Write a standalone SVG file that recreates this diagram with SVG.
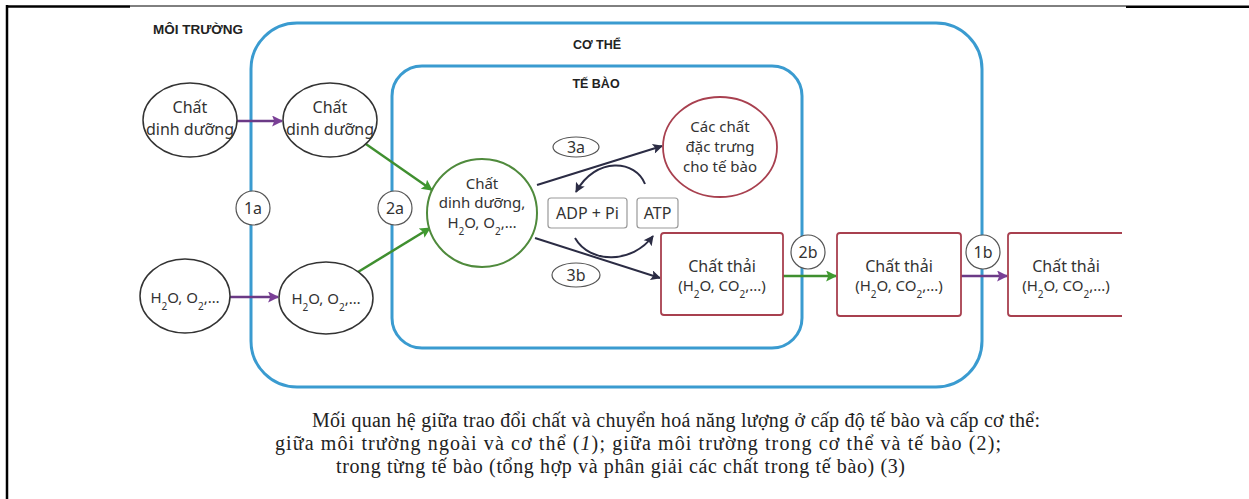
<svg xmlns="http://www.w3.org/2000/svg" width="1249" height="499" viewBox="0 0 1249 499">
  <style>
    .frame { stroke: #000; fill: none; }
    .zone { fill: none; stroke: #3a9bd0; stroke-width: 3; }
    .zone-title { font-family: "Liberation Sans", Arial, sans-serif; font-weight: bold; font-size: 12.5px; fill: #222; }
    .lbl { font-family: "Noto Sans", "Open Sans", sans-serif; font-size: 16px; fill: #333; text-anchor: middle; }
    .lbl.small { font-size: 15px; }
    .sub { font-size: 10px; }
    .plain { fill: #fff; stroke: #333; stroke-width: 1.5; }
    .green-node { fill: #fff; stroke: #4f8a3c; stroke-width: 2; }
    .red-node { fill: #fff; stroke: #a8404f; stroke-width: 1.8; }
    .tag { fill: #fff; stroke: #555; stroke-width: 1.2; }
    .energy { fill: #fff; stroke: #999; stroke-width: 1.2; }
    .purple { stroke: #6b3a86; stroke-width: 2.5; fill: none; }
    .green { stroke: #3f8f2f; stroke-width: 2.5; fill: none; }
    .dark { stroke: #2b2c44; stroke-width: 2; fill: none; }
    .caption { font-family: "Liberation Serif", "Times New Roman", serif; font-size: 20px; fill: #222; }
  </style>
  <defs>
    <marker id="arrow-purple" viewBox="0 0 10 10" refX="9" refY="5" markerWidth="15" markerHeight="11" markerUnits="userSpaceOnUse" orient="auto">
      <path d="M0,0 L10,5 L0,10 L2,5 z" fill="#7a3f96"/>
    </marker>
    <marker id="arrow-green" viewBox="0 0 10 10" refX="9" refY="5" markerWidth="15" markerHeight="11" markerUnits="userSpaceOnUse" orient="auto">
      <path d="M0,0 L10,5 L0,10 L2,5 z" fill="#3f9a2f"/>
    </marker>
    <marker id="arrow-dark" viewBox="0 0 10 10" refX="9" refY="5" markerWidth="13" markerHeight="10" markerUnits="userSpaceOnUse" orient="auto">
      <path d="M0,0 L10,5 L0,10 L2,5 z" fill="#2b2c44"/>
    </marker>
  </defs>

  <rect width="1249" height="499" fill="#fff"/>

  <!-- page frame -->
  <g id="frame">
    <line class="frame" x1="7" y1="5" x2="7" y2="499" stroke-width="2.5"/>
    <line class="frame" x1="6" y1="6.5" x2="130" y2="6.5" stroke-width="2.5"/>
    <line class="frame" x1="130" y1="6" x2="1126" y2="6" stroke-width="1"/>
    <line class="frame" x1="1126" y1="6.8" x2="1249" y2="6.8" stroke-width="2.5"/>
  </g>

  <!-- nested compartments -->
  <g id="environment">
    <text class="zone-title" x="153" y="34" textLength="90" lengthAdjust="spacingAndGlyphs">MÔI TRƯỜNG</text>
  </g>
  <g id="body">
    <rect class="zone" x="251" y="23" width="731" height="364" rx="46"/>
    <text class="zone-title" x="597" y="49" text-anchor="middle">CƠ THỂ</text>
  </g>
  <g id="cell">
    <rect class="zone" x="392" y="66" width="410" height="282" rx="30"/>
    <text class="zone-title" x="596" y="88" text-anchor="middle">TẾ BÀO</text>
  </g>

  <!-- connectors -->
  <g id="connectors">
    <line class="purple" x1="237" y1="121" x2="282" y2="121" marker-end="url(#arrow-purple)"/>
    <line class="purple" x1="230" y1="297" x2="278" y2="297" marker-end="url(#arrow-purple)"/>
    <line class="green" x1="363" y1="142" x2="432" y2="190" marker-end="url(#arrow-green)"/>
    <line class="green" x1="358" y1="272" x2="430" y2="228" marker-end="url(#arrow-green)"/>
    <line class="dark" x1="537" y1="185" x2="662" y2="146" marker-end="url(#arrow-dark)"/>
    <line class="dark" x1="535" y1="238" x2="660" y2="278" marker-end="url(#arrow-dark)"/>
    <path class="dark" d="M645,184 C636,160 596,156 576,192" marker-end="url(#arrow-dark)"/>
    <path class="dark" d="M575,238 C590,264 632,264 653,236" marker-end="url(#arrow-dark)"/>
    <line class="green" x1="783" y1="276" x2="836" y2="276" marker-end="url(#arrow-green)"/>
    <line class="purple" x1="961" y1="276" x2="1007" y2="276" marker-end="url(#arrow-purple)"/>
  </g>

  <!-- outside nutrients -->
  <g id="env-nutrients">
    <ellipse class="plain" cx="190" cy="120" rx="47" ry="37"/>
    <text class="lbl" x="190" y="113">Chất</text>
    <text class="lbl" x="190" y="135">dinh dưỡng</text>
  </g>
  <g id="env-gases">
    <ellipse class="plain" cx="185" cy="296" rx="45" ry="37"/>
    <text class="lbl small" x="185" y="303">H<tspan class="sub" baseline-shift="sub">2</tspan>O, O<tspan class="sub" baseline-shift="sub">2</tspan>,…</text>
  </g>

  <!-- inside the body -->
  <g id="body-nutrients">
    <ellipse class="plain" cx="330" cy="120" rx="47" ry="37"/>
    <text class="lbl" x="330" y="113">Chất</text>
    <text class="lbl" x="330" y="135">dinh dưỡng</text>
  </g>
  <g id="body-gases">
    <ellipse class="plain" cx="326" cy="298" rx="47" ry="36"/>
    <text class="lbl small" x="326" y="304">H<tspan class="sub" baseline-shift="sub">2</tspan>O, O<tspan class="sub" baseline-shift="sub">2</tspan>,…</text>
  </g>

  <!-- exchange markers -->
  <g id="mark-1a">
    <circle class="tag" cx="253" cy="208" r="17"/>
    <text class="lbl" x="253" y="214">1a</text>
  </g>
  <g id="mark-2a">
    <circle class="tag" cx="395" cy="208" r="17"/>
    <text class="lbl" x="395" y="214">2a</text>
  </g>
  <g id="mark-2b">
    <circle class="tag" cx="808" cy="252" r="17"/>
    <text class="lbl" x="808" y="258">2b</text>
  </g>
  <g id="mark-1b">
    <circle class="tag" cx="983" cy="252" r="17"/>
    <text class="lbl" x="983" y="258">1b</text>
  </g>

  <!-- inside the cell -->
  <g id="cell-inputs">
    <ellipse class="green-node" cx="482" cy="213" rx="55" ry="54"/>
    <text class="lbl small" x="482" y="189">Chất</text>
    <text class="lbl small" x="482" y="208">dinh dưỡng,</text>
    <text class="lbl small" x="482" y="228">H<tspan class="sub" baseline-shift="sub">2</tspan>O, O<tspan class="sub" baseline-shift="sub">2</tspan>,…</text>
  </g>
  <g id="cell-products">
    <ellipse class="red-node" cx="720" cy="147" rx="57" ry="50"/>
    <text class="lbl small" x="720" y="132">Các chất</text>
    <text class="lbl small" x="720" y="152">đặc trưng</text>
    <text class="lbl small" x="720" y="172">cho tế bào</text>
  </g>
  <g id="step-3a">
    <ellipse class="tag" cx="576" cy="147" rx="23" ry="10"/>
    <text class="lbl" x="576" y="153">3a</text>
  </g>
  <g id="step-3b">
    <ellipse class="tag" cx="576" cy="275" rx="24" ry="12"/>
    <text class="lbl" x="576" y="281">3b</text>
  </g>
  <g id="adp">
    <rect class="energy" x="548" y="198" width="79" height="30" rx="3"/>
    <text class="lbl" x="587.5" y="219">ADP + Pi</text>
  </g>
  <g id="atp">
    <rect class="energy" x="637" y="198" width="41" height="30" rx="3"/>
    <text class="lbl" x="657.5" y="219">ATP</text>
  </g>

  <!-- waste -->
  <g id="waste-cell">
    <rect class="red-node" x="661" y="233" width="122" height="82" rx="3"/>
    <text class="lbl" x="722" y="272">Chất thải</text>
    <text class="lbl small" x="722" y="291">(H<tspan class="sub" baseline-shift="sub">2</tspan>O, CO<tspan class="sub" baseline-shift="sub">2</tspan>,...)</text>
  </g>
  <g id="waste-body">
    <rect class="red-node" x="837" y="233" width="124" height="83" rx="3"/>
    <text class="lbl" x="899" y="272">Chất thải</text>
    <text class="lbl small" x="899" y="291">(H<tspan class="sub" baseline-shift="sub">2</tspan>O, CO<tspan class="sub" baseline-shift="sub">2</tspan>,...)</text>
  </g>
  <g id="waste-env">
    <path d="M1122,233 H1011 Q1008,233 1008,236 V313 Q1008,316 1011,316 H1122" fill="#fff" stroke="#a8404f" stroke-width="1.8"/>
    <text class="lbl" x="1066" y="272">Chất thải</text>
    <text class="lbl small" x="1066" y="291">(H<tspan class="sub" baseline-shift="sub">2</tspan>O, CO<tspan class="sub" baseline-shift="sub">2</tspan>,...)</text>
  </g>

  <!-- caption -->
  <g id="caption">
    <text class="caption" x="312" y="427" textLength="728" lengthAdjust="spacing">Mối quan hệ giữa trao đổi chất và chuyển hoá năng lượng ở cấp độ tế bào và cấp cơ thể:</text>
    <text class="caption" x="275" y="450" textLength="726" lengthAdjust="spacing">giữa môi trường ngoài và cơ thể (<tspan font-style="italic">1</tspan>); giữa môi trường trong cơ thể và tế bào (2);</text>
    <text class="caption" x="336" y="473" textLength="569" lengthAdjust="spacing">trong từng tế bào (tổng hợp và phân giải các chất trong tế bào) (3)</text>
  </g>
</svg>
